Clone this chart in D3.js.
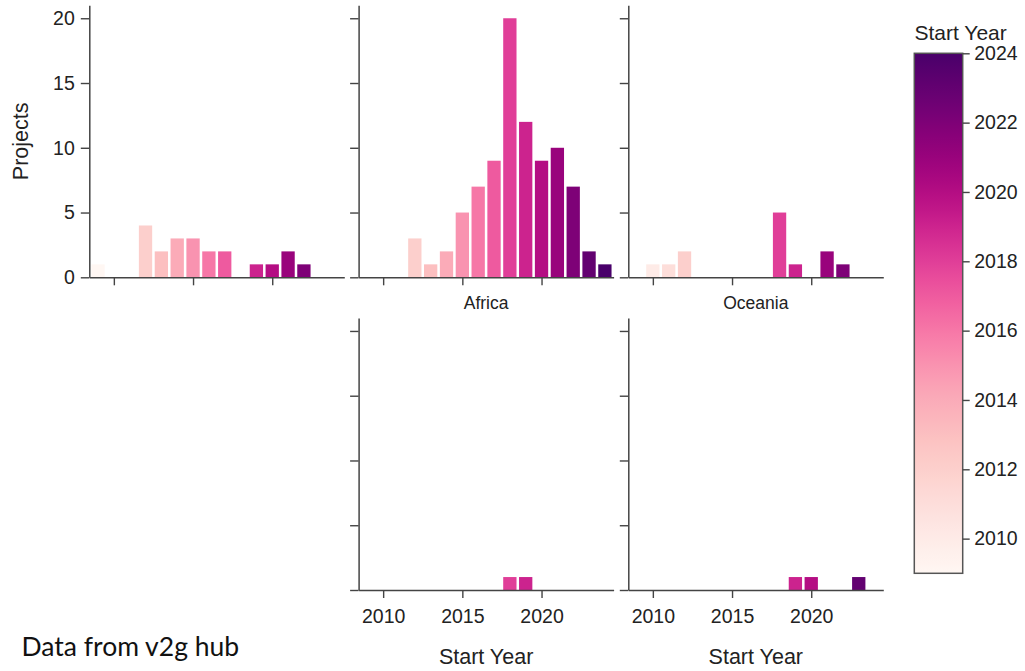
<!DOCTYPE html>
<html>
<head>
<meta charset="utf-8">
<script src="https://cdn.jsdelivr.net/npm/d3@7"></script>
<style>
  html, body { margin: 0; padding: 0; background: #fff; }
  svg { display: block; font-family: "Liberation Sans", Arial, sans-serif; }
</style>
</head>
<body>
<svg id="chart" width="1025" height="671"></svg>
<script>
// Start years covered by the data
const years = [2009, 2010, 2011, 2012, 2013, 2014, 2015, 2016, 2017, 2018, 2019, 2020, 2021, 2022, 2023, 2024];

// Project counts per start year, one array per facet
const countsRow1Col1 = [1, 0, 0, 4, 2, 3, 3, 2, 2, 0, 1, 1, 2, 1, 0, 0];
const countsRow1Col2 = [0, 0, 0, 3, 1, 2, 5, 7, 9, 20, 12, 9, 10, 7, 2, 1];
const countsRow1Col3 = [0, 1, 1, 2, 0, 0, 0, 0, 0, 5, 1, 0, 2, 1, 0, 0];
const countsAfrica   = [0, 0, 0, 0, 0, 0, 0, 0, 0, 1, 1, 0, 0, 0, 0, 0];
const countsOceania  = [0, 0, 0, 0, 0, 0, 0, 0, 0, 0, 1, 1, 0, 0, 1, 0];

// Facet titles (row 1 headers sit above the visible area)
const facetTitles = ["", "", "", "Africa", "Oceania"];

// Axis ticks
const xTicks = [2010, 2015, 2020];
const yTicks = [0, 5, 10, 15, 20];
const legendTicks = [2010, 2012, 2014, 2016, 2018, 2020, 2022, 2024];

const facets = [
  { title: facetTitles[0], counts: countsRow1Col1, row: 0, col: 0 },
  { title: facetTitles[1], counts: countsRow1Col2, row: 0, col: 1 },
  { title: facetTitles[2], counts: countsRow1Col3, row: 0, col: 2 },
  { title: facetTitles[3], counts: countsAfrica,   row: 1, col: 1 },
  { title: facetTitles[4], counts: countsOceania,  row: 1, col: 2 }
];

const svg = d3.select("#chart");
const axisColor = "#444";

// Facet grid layout
const colLefts = [89.3, 358.6, 628.3];
const rowTops = [5.3, 318];
const panelW = 255, panelH = 272;

const x = d3.scaleLinear().domain([2008.45, 2024.55]).range([0, panelW]);
const y = d3.scaleLinear().domain([0, 21]).range([panelH, 0]);
const color = d3.scaleSequential(d3.interpolateRdPu).domain([2009, 2024]);
const barW = x(2009.84) - x(2009);

facets.forEach(f => {
  const g = svg.append("g")
    .attr("transform", `translate(${colLefts[f.col]},${rowTops[f.row]})`);

  const data = years.map((yr, i) => ({ year: yr, n: f.counts[i] })).filter(d => d.n > 0);

  g.selectAll("rect.bar").data(data).join("rect")
    .attr("class", "bar")
    .attr("x", d => x(d.year) - barW / 2)
    .attr("width", barW)
    .attr("y", d => y(d.n))
    .attr("height", d => y(0) - y(d.n))
    .attr("fill", d => color(d.year));

  const showX = f.row === 1;
  const showY = f.col === 0;

  const xAxis = g.append("g")
    .attr("transform", `translate(0,${panelH})`)
    .call(d3.axisBottom(x).tickValues(xTicks).tickSize(8).tickSizeOuter(0)
      .tickPadding(11).tickFormat(showX ? d3.format("d") : () => ""));

  const yAxis = g.append("g")
    .call(d3.axisLeft(y).tickValues(yTicks).tickSize(8.5).tickSizeOuter(0)
      .tickPadding(6).tickFormat(showY ? d3.format("d") : () => ""));

  [xAxis, yAxis].forEach(a => {
    a.select(".domain").attr("stroke", axisColor).attr("stroke-width", 1.5);
    a.selectAll(".tick line").attr("stroke", axisColor).attr("stroke-width", 1.4);
    a.selectAll(".tick text").attr("fill", "#222").style("font-size", "19.5px");
  });

  if (showX) {
    g.append("text")
      .attr("x", panelW / 2).attr("y", panelH + 74)
      .attr("text-anchor", "middle")
      .attr("fill", "#222")
      .style("font-size", "21.5px")
      .text("Start Year");
  }

  if (f.title) {
    g.append("text")
      .attr("x", panelW / 2).attr("y", -9.5)
      .attr("text-anchor", "middle")
      .attr("fill", "#222")
      .style("font-size", "17.5px")
      .text(f.title);
  }
});

// Shared y-axis title
svg.append("text")
  .attr("transform", `translate(27.5,${rowTops[0] + panelH / 2}) rotate(-90)`)
  .attr("text-anchor", "middle")
  .attr("fill", "#222")
  .style("font-size", "21.5px")
  .text("Projects");

// Colour bar legend
const lgX = 914.3, lgY = 53.3, lgW = 48.4, lgH = 520;
const cy = d3.scaleLinear().domain([2009, 2024]).range([lgY + lgH, lgY]);

const grad = svg.append("defs").append("linearGradient")
  .attr("id", "startYearGradient")
  .attr("x1", 0).attr("y1", 1).attr("x2", 0).attr("y2", 0);
d3.range(0, 1.0001, 0.02).forEach(t => {
  grad.append("stop")
    .attr("offset", t)
    .attr("stop-color", d3.interpolateRdPu(t));
});

svg.append("rect")
  .attr("x", lgX).attr("y", lgY)
  .attr("width", lgW).attr("height", lgH)
  .attr("fill", "url(#startYearGradient)")
  .attr("stroke", "#555").attr("stroke-width", 1.5);

const lgAxis = svg.append("g")
  .attr("transform", `translate(${lgX + lgW},0)`)
  .call(d3.axisRight(cy).tickValues(legendTicks).tickSize(7).tickPadding(4.5).tickFormat(d3.format("d")));
lgAxis.select(".domain").remove();
lgAxis.selectAll(".tick line").attr("stroke", axisColor).attr("stroke-width", 1.4);
lgAxis.selectAll(".tick text").attr("fill", "#222").style("font-size", "19.5px");

svg.append("text")
  .attr("x", 914.5).attr("y", 39.5)
  .attr("fill", "#222")
  .style("font-size", "21px")
  .text("Start Year");

// Source note
svg.append("text")
  .attr("x", 21.5).attr("y", 655.7)
  .attr("fill", "#111")
  .style("font-family", "Lato, 'Open Sans', sans-serif")
  .style("font-size", "26.5px")
  .text("Data from v2g hub");
</script>
</body>
</html>
